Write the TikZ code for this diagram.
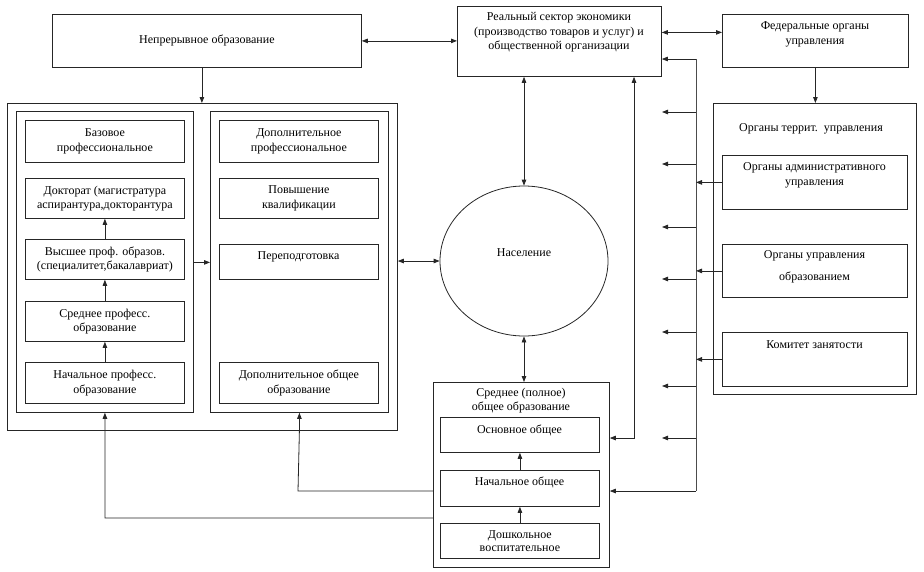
\documentclass[tikz,border=0pt]{standalone}
\usepackage{fontspec}
\setmainfont{Liberation Serif}
\usetikzlibrary{arrows.meta,shapes.geometric,calc}
\begin{document}
\begin{tikzpicture}[x=1pt,y=-1pt,
  box/.style={draw=black!85, line width=0.8pt, inner sep=0pt, anchor=north west,
    font=\fontsize{12}{14.5}\selectfont, align=center},
  txt/.style={inner sep=0pt, font=\fontsize{12}{14.5}\selectfont, align=center},
  arr/.style={draw=black!85, line width=0.8pt, -{Triangle[length=6pt,width=4.5pt]}},
  darr/.style={draw=black!85, line width=0.8pt, {Triangle[length=6pt,width=4.5pt]}-{Triangle[length=6pt,width=4.5pt]}},
  bus/.style={draw=black!70, line width=1pt}
]
\useasboundingbox (0,0) rectangle (924,571);

% top row
\node[box, minimum width=309pt, minimum height=53pt] (neprer) at (52,14) {Непрерывное образование};
\node[box, minimum width=204pt, minimum height=70pt] (real) at (457,6) {};
\node[txt] (real-t) at (559,32.5) {Реальный сектор экономики\\(производство товаров и услуг) и\\общественной организации};
\node[box, minimum width=186pt, minimum height=53pt] (fed) at (722,14) {};
\node[txt] (fed-t) at (815,34.5) {Федеральные органы\\управления};

% left block
\node[box, minimum width=390pt, minimum height=327pt] (outer) at (7,103) {};
\node[box, minimum width=177pt, minimum height=301pt] (lpanel) at (16,111) {};
\node[box, minimum width=178pt, minimum height=301pt] (rpanel) at (210,111) {};

\node[box, minimum width=159pt, minimum height=42pt] (baz) at (25,120) {Базовое\\профессиональное};
\node[box, minimum width=159pt, minimum height=40pt] (dok) at (25,178) {Докторат (магистратура\\аспирантура,докторантура};
\node[box, minimum width=159pt, minimum height=40pt] (vys) at (25,239) {Высшее проф. образов.\\(специалитет,бакалавриат)};
\node[box, minimum width=159pt, minimum height=40pt] (sredp) at (25,301) {Среднее професс.\\образование};
\node[box, minimum width=159pt, minimum height=41pt] (nachp) at (25,362) {Начальное професс.\\образование};

\node[box, minimum width=159pt, minimum height=42pt] (dopp) at (219,120) {Дополнительное\\профессиональное};
\node[box, minimum width=159pt, minimum height=40pt] (pov) at (219,178) {Повышение\\квалификации};
\node[box, minimum width=159pt, minimum height=35pt] (perep) at (219,244) {};
\node[txt] (perep-t) at (298.5,257) {Переподготовка};
\node[box, minimum width=159pt, minimum height=41pt] (dopo) at (219,362) {Дополнительное общее\\образование};

% population
\node[ellipse, draw=black!85, line width=0.8pt, minimum width=168pt, minimum height=150pt, inner sep=0pt] (pop) at (524,261) {};
\node[txt] (pop-t) at (524,253) {Население};

% right block
\node[box, minimum width=203pt, minimum height=291pt] (terr) at (713,103) {};
\node[txt] (terr-t) at (811,129) {Органы террит.\ \ управления};
\node[box, minimum width=185pt, minimum height=54pt] (adm) at (722,155) {};
\node[txt] (adm-t) at (814.5,175.5) {Органы административного\\управления};
\node[box, minimum width=185pt, minimum height=53pt] (upr) at (722,244) {};
\node[txt, font=\fontsize{12}{22}\selectfont] (upr-t) at (814.5,267) {Органы управления\\образованием};
\node[box, minimum width=185pt, minimum height=54pt] (kom) at (722,332) {};
\node[txt] (kom-t) at (814.5,345) {Комитет занятости};

% school block
\node[box, minimum width=176pt, minimum height=185pt] (sredpol) at (433,382) {};
\node[txt] (sredpol-t) at (521,400.5) {Среднее (полное)\\общее образование};
\node[box, minimum width=159pt, minimum height=35pt] (osn) at (440,417) {};
\node[txt] (osn-t) at (519.5,430) {Основное общее};
\node[box, minimum width=159pt, minimum height=36pt] (nacho) at (440,470) {};
\node[txt] (nacho-t) at (519.5,482) {Начальное общее};
\node[box, minimum width=159pt, minimum height=35pt, font=\fontsize{12}{12.5}\selectfont] (dosh) at (440,523) {Дошкольное\\воспитательное};

% coordinates
\coordinate (bustop) at (696,59);
\coordinate (busbot) at (696,491);
\coordinate (v2) at (634,438);
\coordinate (c1) at (298,491);
\coordinate (c2) at (105,518);
\foreach \i/\y in {1/112,2/164,3/227,4/279,5/332,6/386,7/438}
  \coordinate (f\i) at (662,\y);

% connectors
\draw[darr] (neprer.east) -- (neprer.east -| real.west);
\draw[darr] ([yshift=9pt]real.east) -- ([yshift=9pt]real.east -| fed.west);
\draw[arr] ([xshift=-5pt]neprer.south) -- ([xshift=-5pt]neprer.south |- outer.north);
\draw[arr] (vys.north) -- (dok.south);
\draw[arr] (sredp.north) -- (vys.south);
\draw[arr] (nachp.north) -- (sredp.south);
\draw[arr] ([yshift=-0.5pt]lpanel.east) -- ([yshift=-0.5pt]lpanel.east -| rpanel.west);
\draw[darr] (pop.west -| outer.east) -- (pop.west);
\draw[darr] (pop.north |- real.south) -- (pop.north);
\draw[darr] (pop.south) -- (pop.south |- sredpol.north);
\draw[arr] (fed.south) -- (fed.south |- terr.north);

\draw[bus] (bustop) -- (busbot);
\draw[arr] (bustop) -- (bustop -| real.east);
\draw[arr] (busbot) -- (busbot -| sredpol.east);
\draw[arr] (adm.west) -- (adm.west -| bustop);
\draw[arr] (upr.west) -- (upr.west -| bustop);
\draw[arr] (kom.west) -- (kom.west -| bustop);
\foreach \i in {1,...,7}
  \draw[arr] (f\i -| bustop) -- (f\i);

\draw[darr] (real.south -| v2) -- (v2) -- (v2 -| sredpol.east);
\draw[arr] (c1 -| sredpol.west) -- (c1) -- (rpanel.south |- outer.south) -- (rpanel.south);
\draw[arr] (c2 -| sredpol.west) -- (c2) -- (lpanel.south);

\draw[arr] (nacho.north) -- (osn.south);
\draw[arr] (dosh.north) -- (nacho.south);
\end{tikzpicture}
\end{document}
